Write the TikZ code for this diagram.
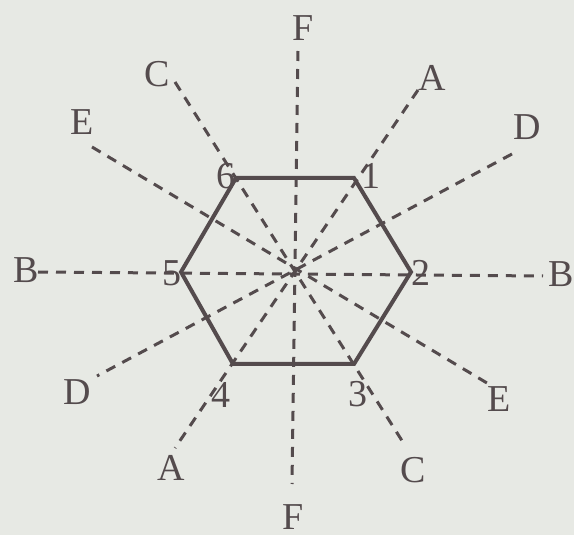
\documentclass[tikz,border=0pt]{standalone}
\usepackage{fontspec}
\setmainfont{Liberation Serif}
\definecolor{paper}{HTML}{E7E9E4}
\definecolor{ink}{HTML}{544B4D}
\begin{document}
\begin{tikzpicture}[x=0.5pt,y=-0.5pt,
  hexedge/.style={draw=ink,line width=2pt,line join=miter},
  axis/.style={draw=ink,line width=1.5pt,dash pattern=on 5pt off 4pt},
  lbl/.style={text=ink,font=\fontsize{19}{19}\selectfont,inner sep=0pt}]
\fill[paper] (0,0) rectangle (574,535);
\useasboundingbox (0,0) rectangle (574,535);
% hexagon vertices
\coordinate (v1) at (354,178);
\coordinate (v2) at (411,272);
\coordinate (v3) at (354,364);
\coordinate (v4) at (233,364);
\coordinate (v5) at (181,272);
\coordinate (v6) at (236,178);
% axis ends
\coordinate (Ft) at (298,51);   \coordinate (Fb) at (292,484);
\coordinate (At) at (418,90);   \coordinate (Ab) at (175,448);
\coordinate (Ct) at (175,82);   \coordinate (Cb) at (406,447);
\coordinate (Et) at (92,147);   \coordinate (Eb) at (487,383);
\coordinate (Dt) at (512,154);  \coordinate (Db) at (97,376);
\coordinate (Bl) at (38,272);   \coordinate (Br) at (543,276);
% axes
\draw[axis] (Ft) -- (Fb);
\draw[axis] (At) -- (Ab);
\draw[axis] (Ct) -- (Cb);
\draw[axis] (Et) -- (Eb);
\draw[axis] (Dt) -- (Db);
\draw[axis] (Bl) -- (Br);
% hexagon
\draw[hexedge] (v1) -- (v2) -- (v3) -- (v4) -- (v5) -- (v6) -- cycle;
% letter labels
\node[lbl] (lFt) at (303,28) {F};
\node[lbl] (lFb) at (293,517) {F};
\node[lbl] (lAt) at (432,78) {A};
\node[lbl] (lAb) at (171,468) {A};
\node[lbl] (lCt) at (157,74) {C};
\node[lbl] (lCb) at (413,470) {C};
\node[lbl] (lEt) at (82,122) {E};
\node[lbl] (lEb) at (499,399) {E};
\node[lbl] (lDt) at (527,127) {D};
\node[lbl] (lDb) at (77,392) {D};
\node[lbl] (lBl) at (26,270) {B};
\node[lbl] (lBr) at (561,274) {B};
% vertex numbers
\node[lbl] (n1) at (371,176) {1};
\node[lbl] (n2) at (421,273) {2};
\node[lbl] (n3) at (358,394) {3};
\node[lbl] (n4) at (221,395) {4};
\node[lbl] (n5) at (172,273) {5};
\node[lbl] (n6) at (226,176) {6};
\end{tikzpicture}
\end{document}
